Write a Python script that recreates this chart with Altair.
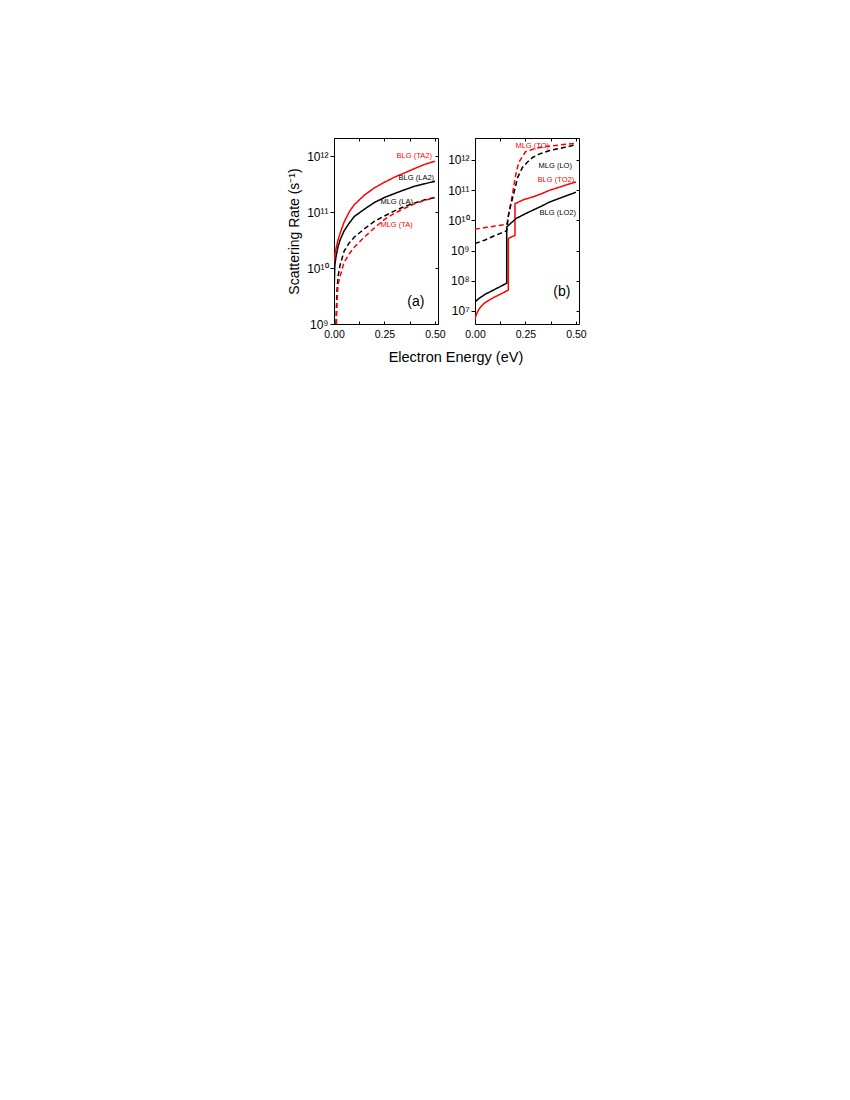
import altair as alt
import pandas as pd

FONT = "Liberation Sans"

# ---------------- panel (a) ----------------
A_SERIES = ["BLG (TA2)", "BLG (LA2)", "MLG (LA)", "MLG (TA)"]
A_COLORS = ["#ff0000", "#000000", "#000000", "#ff0000"]
A_DASHES = [[1, 0], [1, 0], [5, 3], [5, 3]]

A_BLG_TA2_X = [0.0, 0.005, 0.01, 0.02, 0.03, 0.05, 0.075, 0.1, 0.15, 0.2, 0.25, 0.3, 0.35, 0.4, 0.45, 0.5]
A_BLG_TA2_Y = [1.2e10, 1.78e10, 2.24e10, 3.16e10, 4.17e10, 6.6e10, 1.0e11, 1.35e11, 2.0e11, 2.7e11,
               3.4e11, 4.2e11, 5.0e11, 6.0e11, 7.1e11, 8.1e11]

A_BLG_LA2_X = [0.0, 0.004, 0.01, 0.02, 0.03, 0.05, 0.075, 0.1, 0.15, 0.2, 0.25, 0.3, 0.35, 0.4, 0.45, 0.5]
A_BLG_LA2_Y = [3.2e9, 1.1e10, 1.6e10, 2.4e10, 3.16e10, 4.6e10, 6.3e10, 8.3e10, 1.12e11, 1.48e11,
               1.82e11, 2.14e11, 2.5e11, 2.9e11, 3.2e11, 3.55e11]

A_MLG_LA_X = [0.01, 0.012, 0.015, 0.02, 0.03, 0.05, 0.075, 0.1, 0.15, 0.2, 0.25, 0.3, 0.35, 0.4, 0.45, 0.5]
A_MLG_LA_Y = [1.0e9, 2.0e9, 4.0e9, 7.1e9, 1.12e10, 2.0e10, 2.8e10, 3.55e10, 5.0e10, 6.8e10,
              8.5e10, 1.05e11, 1.26e11, 1.45e11, 1.66e11, 1.82e11]

A_MLG_TA_X = [0.012, 0.015, 0.02, 0.03, 0.05, 0.075, 0.1, 0.15, 0.2, 0.25, 0.3, 0.35, 0.4, 0.45, 0.5]
A_MLG_TA_Y = [1.0e9, 2.5e9, 5.0e9, 7.1e9, 1.26e10, 1.78e10, 2.35e10, 3.55e10, 5.2e10, 7.4e10,
              9.5e10, 1.17e11, 1.41e11, 1.62e11, 1.82e11]

A_LABEL_X = [0.31, 0.32, 0.23, 0.23]
A_LABEL_Y = [1.0e12, 4.0e11, 1.5e11, 5.8e10]

# ---------------- panel (b) ----------------
B_SERIES = ["MLG (TO)", "MLG (LO)", "BLG (TO2)", "BLG (LO2)"]
B_COLORS = ["#ff0000", "#000000", "#ff0000", "#000000"]
B_DASHES = [[5, 3], [5, 3], [1, 0], [1, 0]]

B_MLG_TO_X = [0.0, 0.05, 0.1, 0.157, 0.162, 0.167, 0.172, 0.18, 0.19, 0.2, 0.21, 0.22, 0.25, 0.3,
              0.35, 0.4, 0.45, 0.5]
B_MLG_TO_Y = [5.1e9, 5.75e9, 6.5e9, 7.4e9, 1.0e10, 1.58e10, 2.4e10, 4.5e10, 1.12e11, 2.8e11, 5.6e11,
              8.9e11, 1.86e12, 2.4e12, 2.75e12, 3.0e12, 3.3e12, 3.55e12]

B_MLG_LO_X = [0.0, 0.05, 0.1, 0.157, 0.165, 0.175, 0.187, 0.2, 0.211, 0.235, 0.26, 0.285, 0.32,
              0.37, 0.42, 0.46, 0.5]
B_MLG_LO_Y = [1.7e9, 2.24e9, 3.16e9, 4.5e9, 1.41e10, 2.8e10, 5.75e10, 1.26e11, 2.6e11, 5.6e11,
              8.5e11, 1.2e12, 1.58e12, 2.04e12, 2.4e12, 2.75e12, 3.16e12]

B_BLG_TO2_X = [0.0, 0.005, 0.01, 0.02, 0.03, 0.05, 0.08, 0.1, 0.13, 0.165, 0.165, 0.18, 0.198,
               0.198, 0.24, 0.285, 0.33, 0.368, 0.42, 0.46, 0.5]
B_BLG_TO2_Y = [5.2e6, 7.1e6, 8.7e6, 1.15e7, 1.41e7, 1.9e7, 2.5e7, 2.95e7, 3.7e7, 4.9e7, 2.5e9,
               2.8e9, 3.16e9, 3.55e10, 4.8e10, 5.9e10, 7.6e10, 9.8e10, 1.26e11, 1.55e11, 1.86e11]

B_BLG_LO2_X = [0.0, 0.02, 0.05, 0.1, 0.157, 0.157, 0.18, 0.204, 0.25, 0.285, 0.33, 0.368, 0.42,
               0.46, 0.5]
B_BLG_LO2_Y = [2.0e7, 2.6e7, 3.55e7, 5.25e7, 8.3e7, 6.0e9, 8.3e9, 1.15e10, 1.66e10, 2.14e10,
               2.95e10, 4.0e10, 5.4e10, 6.8e10, 8.5e10]

B_LABEL_X = [0.2, 0.315, 0.31, 0.32]
B_LABEL_Y = [2.9e12, 6.5e11, 2.1e11, 1.7e10]

PANEL_LETTERS = ["(a)", "(b)"]
LETTER_X = [0.405, 0.43]
LETTER_Y = [2.5e9, 4.4e7]

X_DOMAIN = [0.0, 0.515]
X_LABEL_TICKS = [0.0, 0.25, 0.5]
X_MINOR_TICKS = [0.0, 0.125, 0.25, 0.375, 0.5]
A_Y_DOMAIN = [1.0e9, 2.1e12]
B_Y_DOMAIN = [3.7e6, 5.3e12]
A_Y_TICKS = [1e9, 1e10, 1e11, 1e12]
B_Y_TICKS = [1e7, 1e8, 1e9, 1e10, 1e11, 1e12]

ALL_SERIES = A_SERIES + B_SERIES
ALL_COLORS = A_COLORS + B_COLORS
ALL_DASHES = A_DASHES + B_DASHES

W, H = 104, 186
SUP = str.maketrans("0123456789-", "⁰¹²³⁴⁵⁶⁷⁸⁹⁻")


def ylabel_expr(vals):
    parts = []
    for v in vals:
        e = len(str(int(v))) - 1
        parts.append(f"(datum.value > {v * 0.5} && datum.value < {v * 2}) ? '10{str(e).translate(SUP)}'")
    return " : ".join(parts) + " : ''"


def lines_frame(series, xs_list, ys_list):
    rows = []
    for s, xs, ys in zip(series, xs_list, ys_list):
        for i, (x, y) in enumerate(zip(xs, ys)):
            rows.append({"series": s, "x": x, "y": y, "i": i})
    return pd.DataFrame(rows)


CS = alt.Scale(domain=ALL_SERIES, range=ALL_COLORS)
DS = alt.Scale(domain=ALL_SERIES, range=ALL_DASHES)


def panel(df, series, lab_x, lab_y, ydom, yticks, letter, lx, ly, ytitle):
    xs = alt.Scale(domain=X_DOMAIN, nice=False, zero=False)
    ys = alt.Scale(type="log", domain=ydom, nice=False)
    yaxis_kwargs = dict(orient="left", values=yticks, labelExpr=ylabel_expr(yticks), tickSize=4,
                        domain=False, grid=False, labelFontSize=12, labelPadding=2)
    if ytitle:
        yaxis_kwargs.update(title=ytitle, titleFontSize=14, titleFontWeight="normal", titlePadding=5)
    else:
        yaxis_kwargs.update(title=None)

    lines = alt.Chart(df).mark_line(strokeWidth=1.5, clip=True).encode(
        x=alt.X("x:Q", scale=xs, axis=alt.Axis(orient="bottom", values=X_LABEL_TICKS, format=".2f",
                                               ticks=False, domain=False, grid=False, labelFlush=False,
                                               labelFontSize=10.5, labelPadding=5, title=None)),
        y=alt.Y("y:Q", scale=ys, axis=alt.Axis(**yaxis_kwargs)),
        color=alt.Color("series:N", scale=CS, legend=None),
        strokeDash=alt.StrokeDash("series:N", scale=DS, legend=None),
        detail="series:N",
        order="i:Q",
    )
    ann_df = pd.DataFrame({"series": series, "x": lab_x, "y": lab_y})
    ann = alt.Chart(ann_df).mark_text(align="left", baseline="middle", fontSize=7.5, font=FONT).encode(
        x=alt.X("x:Q", scale=xs, axis=alt.Axis(orient="top", offset=-H, values=X_MINOR_TICKS,
                                               labels=False, tickSize=3, domain=False, grid=False,
                                               title=None)),
        y=alt.Y("y:Q", scale=ys, axis=alt.Axis(orient="left", offset=-W, values=yticks, labels=False,
                                               tickSize=3, domain=False, grid=False, title=None)),
        text="series:N",
        color=alt.Color("series:N", scale=CS, legend=None),
    )
    let_df = pd.DataFrame({"label": [letter], "x": [lx], "y": [ly]})
    let = alt.Chart(let_df).mark_text(fontSize=14, font=FONT, color="black").encode(
        x=alt.X("x:Q", scale=xs, axis=alt.Axis(orient="bottom", offset=-H, values=X_MINOR_TICKS,
                                               labels=False, tickSize=3, domain=False, grid=False,
                                               title=None)),
        y=alt.Y("y:Q", scale=ys, axis=None),
        text="label:N",
    )
    return alt.layer(lines, ann, let).resolve_axis(x="independent", y="independent").properties(
        width=W, height=H)


dfa = lines_frame(A_SERIES, [A_BLG_TA2_X, A_BLG_LA2_X, A_MLG_LA_X, A_MLG_TA_X],
                  [A_BLG_TA2_Y, A_BLG_LA2_Y, A_MLG_LA_Y, A_MLG_TA_Y])
dfb = lines_frame(B_SERIES, [B_MLG_TO_X, B_MLG_LO_X, B_BLG_TO2_X, B_BLG_LO2_X],
                  [B_MLG_TO_Y, B_MLG_LO_Y, B_BLG_TO2_Y, B_BLG_LO2_Y])

pa = panel(dfa, A_SERIES, A_LABEL_X, A_LABEL_Y, A_Y_DOMAIN, A_Y_TICKS,
           PANEL_LETTERS[0], LETTER_X[0], LETTER_Y[0], "Scattering Rate (s⁻¹)")
pb = panel(dfb, B_SERIES, B_LABEL_X, B_LABEL_Y, B_Y_DOMAIN, B_Y_TICKS,
           PANEL_LETTERS[1], LETTER_X[1], LETTER_Y[1], None)

chart = alt.hconcat(pa, pb, spacing=1).properties(
    title=alt.TitleParams(text="Electron Energy (eV)", orient="bottom", anchor="middle",
                          fontSize=14.5, font=FONT, fontWeight="normal", color="black", offset=11,
                          dx=19),
    padding={"left": 279, "top": 129, "right": 5, "bottom": 5},
).configure_view(stroke="black", strokeWidth=1).configure_axis(
    labelFont=FONT, titleFont=FONT, tickColor="black", labelColor="black", titleColor="black",
    tickWidth=1,
)

chart.save("out.html", embed_options={"renderer": "svg", "actions": False})
